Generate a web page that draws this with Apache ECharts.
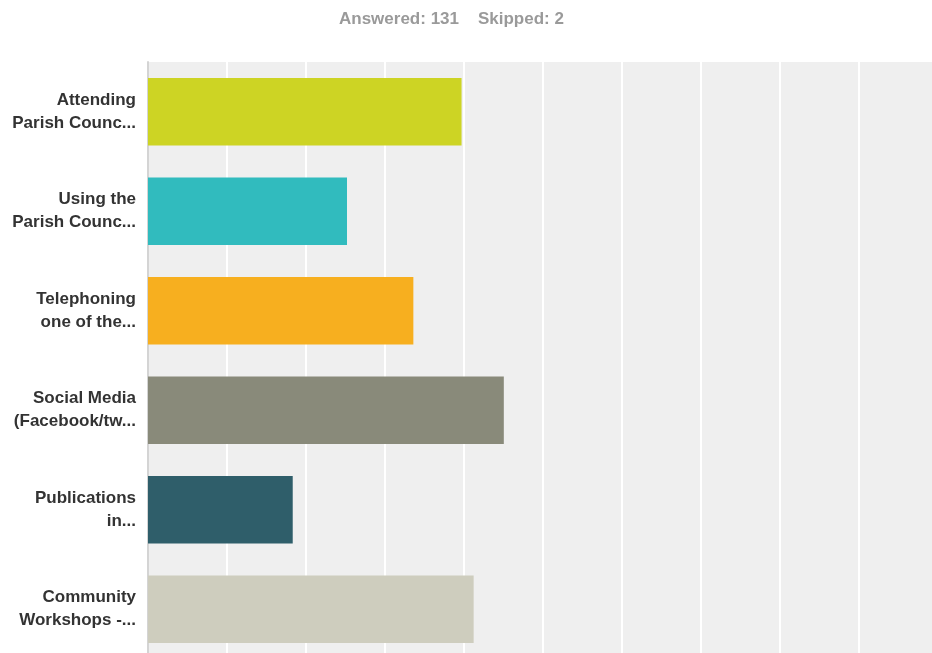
<!DOCTYPE html>
<html>
<head>
<meta charset="utf-8">
<script src="https://cdn.jsdelivr.net/npm/echarts@6/dist/echarts.min.js"></script>
<style>
  html, body { margin: 0; padding: 0; background: #fff; overflow: hidden; }
  /* the plot area runs a little past the right and bottom edge of the picture */
  #main { width: 940px; height: 661px; }
</style>
</head>
<body>
<div id="main"></div>
<script>
  // answer choices (as truncated in the survey export)
  var categories = [
    'Attending\nParish Counc...',
    'Using the\nParish Counc...',
    'Telephoning\none of the...',
    'Social Media\n(Facebook/tw...',
    'Publications\nin...',
    'Community\nWorkshops -...'
  ];
  // percent of respondents
  var percents = [39.69, 25.19, 33.59, 45.04, 18.32, 41.22];
  var barColors = ['#CDD424', '#31BBBE', '#F7AF1F', '#898A7A', '#2F5E6A', '#CECDBE'];
  var answered = 131;
  var skipped = 2;

  var chart = echarts.init(document.getElementById('main'));
  var seriesData = percents.map(function (v, i) {
    return { value: v, itemStyle: { color: barColors[i] } };
  });

  chart.setOption({
    animation: false,
    title: {
      text: 'Answered: ' + answered + '    Skipped: ' + skipped,
      left: 334,
      top: 6,
      textStyle: {
        color: '#9a9a9a',
        fontSize: 17,
        fontWeight: 'bold',
        fontFamily: 'Liberation Sans, Arial, sans-serif'
      }
    },
    grid: {
      left: 148,
      right: 2,
      top: 62,
      bottom: 2,
      show: true,
      backgroundColor: '#EFEFEF',
      borderWidth: 0
    },
    xAxis: {
      type: 'value',
      min: 0,
      max: 100,
      interval: 10,
      axisLine: { show: false },
      axisTick: { show: false },
      axisLabel: { show: false },
      splitLine: { show: true, lineStyle: { color: '#ffffff', width: 2 } }
    },
    yAxis: {
      type: 'category',
      inverse: true,
      data: categories,
      axisLine: { show: true, lineStyle: { color: '#d4d4d4', width: 2 } },
      axisTick: { show: false },
      axisLabel: {
        margin: 12,
        color: '#333',
        fontSize: 17,
        fontWeight: 'bold',
        lineHeight: 23,
        fontFamily: 'Liberation Sans, Arial, sans-serif',
        align: 'right'
      }
    },
    series: [
      {
        type: 'bar',
        data: seriesData,
        barCategoryGap: '32%'
      }
    ]
  });
</script>
</body>
</html>
